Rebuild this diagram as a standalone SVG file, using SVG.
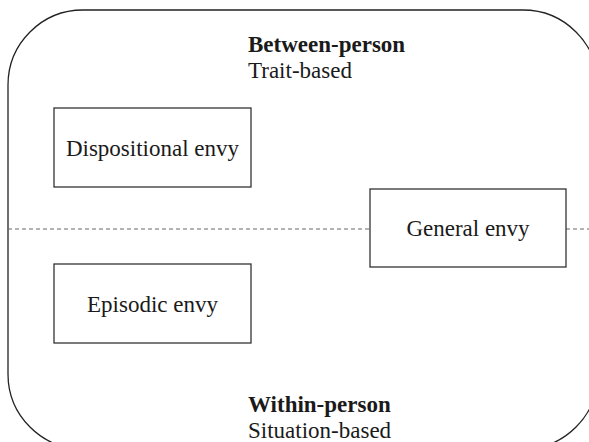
<svg xmlns="http://www.w3.org/2000/svg" width="589" height="442" viewBox="0 0 589 442">
<style>
.frame{fill:none;stroke:#222;stroke-width:1.3}
.box{fill:#fff;stroke:#333;stroke-width:1.3}
.dash{fill:none;stroke:#666;stroke-width:1;stroke-dasharray:4,3}
text{font-family:"Liberation Serif","Times New Roman",serif;font-size:23px;fill:#1a1a1a}
.b{font-weight:bold}
.c{text-anchor:middle}
</style>
<rect width="589" height="442" fill="#fff"/>
<rect class="frame" x="8" y="10" width="590" height="439" rx="75" ry="75"/>
<g id="connectors">
<line class="dash" x1="8" y1="229" x2="370" y2="229"/>
<line class="dash" x1="566" y1="229" x2="589" y2="229"/>
</g>
<g id="between-label">
<text class="b" x="248" y="52">Between-person</text>
<text x="248" y="78">Trait-based</text>
</g>
<g id="within-label">
<text class="b" x="248" y="412">Within-person</text>
<text x="248" y="438">Situation-based</text>
</g>
<g id="dispositional">
<rect class="box" x="54" y="108" width="197" height="79"/>
<text class="c" x="152.5" y="156">Dispositional envy</text>
</g>
<g id="episodic">
<rect class="box" x="54" y="264" width="197" height="79"/>
<text class="c" x="152.5" y="312">Episodic envy</text>
</g>
<g id="general">
<rect class="box" x="370" y="189" width="196" height="78"/>
<text class="c" x="468" y="236">General envy</text>
</g>
</svg>
